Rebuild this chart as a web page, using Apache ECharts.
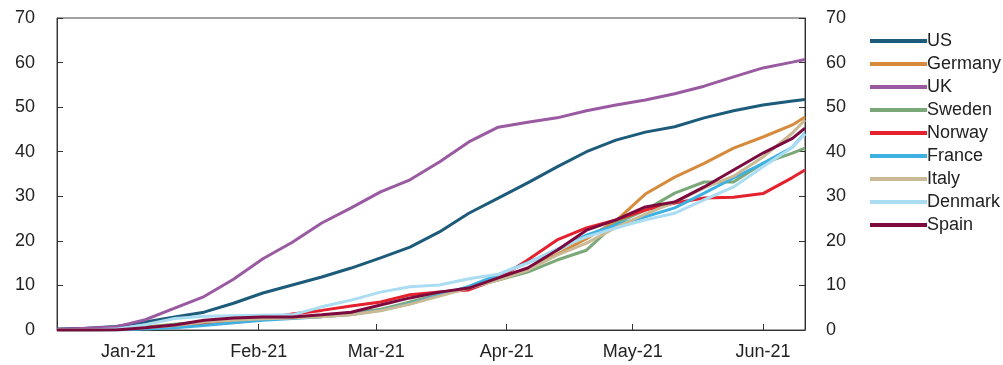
<!DOCTYPE html>
<html>
<head>
<meta charset="utf-8">
<script src="https://cdn.jsdelivr.net/npm/echarts@6/dist/echarts.min.js"></script>
<style>
  html, body { margin: 0; padding: 0; background: #fff; }
  #chart { width: 1003px; height: 365px; }
</style>
</head>
<body>
<div id="chart"></div>
<script>
// weekly sample dates
const dates = ['2020-12-15','2020-12-22','2020-12-29','2021-01-05','2021-01-12','2021-01-19','2021-01-26',
  '2021-02-02','2021-02-09','2021-02-16','2021-02-23','2021-03-02','2021-03-09','2021-03-16','2021-03-23',
  '2021-03-30','2021-04-06','2021-04-13','2021-04-20','2021-04-27','2021-05-04','2021-05-11','2021-05-18',
  '2021-05-25','2021-06-01','2021-06-08','2021-06-11'];

const us      = [0.2,0.4,0.8,1.8,2.9,4.0,6.0,8.3,10.1,11.9,13.9,16.2,18.6,22.0,26.2,29.6,33.0,36.6,40.0,42.6,44.4,45.6,47.6,49.2,50.5,51.4,51.7];
const germany = [0,0,0.1,0.6,1.2,1.8,2.2,2.5,2.7,3.0,3.5,4.6,6.0,7.8,9.5,11.4,13.6,17.0,20.5,24.5,30.5,34.3,37.4,40.8,43.3,46.0,47.8];
const uk      = [0.1,0.4,0.7,2.3,4.9,7.5,11.4,16.0,19.7,24.0,27.4,31.0,33.7,37.7,42.2,45.5,46.6,47.6,49.2,50.5,51.6,53.0,54.7,56.8,58.8,60.1,60.7];
const sweden  = [0,0,0.1,0.7,1.3,1.8,2.2,2.5,2.8,3.2,3.8,4.6,6.3,8.0,9.6,11.2,13.0,15.7,17.9,24.0,26.9,30.7,33.2,33.2,37.4,39.7,40.8];
const norway  = [0,0,0.1,0.5,1.0,1.3,1.7,2.4,3.6,4.4,5.4,6.3,7.9,8.5,9.0,11.5,15.7,20.2,22.9,24.7,26.9,28.5,29.6,29.8,30.6,34.2,35.9];
const france  = [0,0,0,0.2,0.5,1.0,1.6,2.2,2.6,3.0,3.5,4.4,5.9,7.8,9.8,12.4,15.1,17.9,21.3,23.6,25.4,27.4,30.7,34.1,37.4,41.0,44.2];
const italy   = [0,0,0.1,0.5,1.0,1.8,2.2,2.5,2.7,3.0,3.4,4.3,5.8,7.6,9.4,11.2,13.4,16.8,19.5,23.0,26.0,28.7,31.9,34.5,38.8,44.2,47.1];
const denmark = [0,0,0.2,1.2,2.6,3.1,3.2,3.3,3.4,5.2,6.7,8.5,9.7,10.1,11.5,12.5,15.0,18.2,20.9,22.9,24.7,26.2,29.2,32.1,36.6,41.0,44.0];
const spain   = [0,0,0,0.5,1.1,2.2,2.7,2.9,2.9,3.4,4.0,5.6,7.2,8.5,9.4,11.7,13.9,17.9,22.4,24.7,27.6,28.7,32.1,35.9,39.7,43.0,45.3];

const monthTicks = ['2021-01-01','2021-02-01','2021-03-01','2021-04-01','2021-05-01','2021-06-01'];
const monthNames = ['Jan','Feb','Mar','Apr','May','Jun','Jul','Aug','Sep','Oct','Nov','Dec'];

const seriesDefs = [
  ['US', us, '#1d5b7a'],
  ['Germany', germany, '#d68b3c'],
  ['UK', uk, '#9a5aa2'],
  ['Sweden', sweden, '#7aa878'],
  ['Norway', norway, '#e4212d'],
  ['France', france, '#3fb0e2'],
  ['Italy', italy, '#c9b994'],
  ['Denmark', denmark, '#aadcf2'],
  ['Spain', spain, '#7c0a3e']
];

function toTime(s) {
  const p = s.split('-');
  return new Date(+p[0], +p[1] - 1, +p[2]).getTime();
}

const font = 'Liberation Sans, Arial, sans-serif';

const chart = echarts.init(document.getElementById('chart'));

const yAxisBase = {
  type: 'value',
  min: 0,
  max: 70,
  interval: 10,
  splitLine: { show: false },
  axisLine: { show: true, lineStyle: { color: '#333', width: 1 } },
  axisTick: { show: true, inside: true, length: 6, lineStyle: { color: '#333' } },
  axisLabel: { color: '#222', fontSize: 18, fontFamily: font, margin: 22 }
};

const tickTimes = monthTicks.map(toTime);

chart.setOption({
  animation: false,
  grid: {
    left: 57, right: 198, top: 18, bottom: 35,
    show: true, borderColor: '#444', borderWidth: 1
  },
  legend: {
    orient: 'vertical',
    left: 865,
    top: 26,
    icon: 'rect',
    itemWidth: 57,
    itemHeight: 4,
    itemGap: 3,
    textStyle: { fontSize: 18, fontFamily: font, color: '#222', lineHeight: 20, padding: [0, 0, 0, -5] },
    data: seriesDefs.map(d => d[0])
  },
  xAxis: {
    type: 'value',
    min: toTime('2020-12-15'),
    max: toTime('2021-06-11'),
    splitLine: { show: false },
    axisLine: { lineStyle: { color: '#333' } },
    axisTick: { show: true, inside: true, length: 6, customValues: tickTimes, lineStyle: { color: '#333' } },
    axisLabel: {
      customValues: tickTimes,
      color: '#222', fontSize: 18, fontFamily: font, margin: 13,
      formatter: v => {
        const d = new Date(v);
        return monthNames[d.getMonth()] + '-' + String(d.getFullYear()).slice(2);
      }
    }
  },
  yAxis: [
    Object.assign({}, yAxisBase, { position: 'left' }),
    Object.assign({}, yAxisBase, { position: 'right', axisLabel: Object.assign({}, yAxisBase.axisLabel, { margin: 21 }) })
  ],
  series: seriesDefs.map(d => ({
    name: d[0],
    type: 'line',
    symbol: 'none',
    lineStyle: { width: 3, color: d[2] },
    itemStyle: { color: d[2] },
    data: dates.map((t, i) => [toTime(t), d[1][i]])
  }))
});
</script>
</body>
</html>
